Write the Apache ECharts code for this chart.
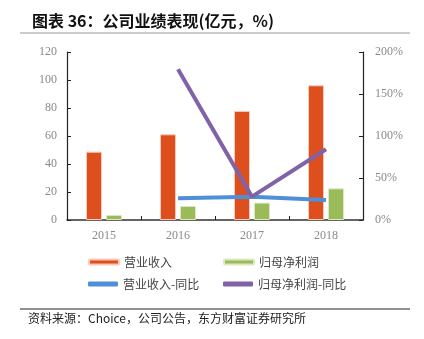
<!DOCTYPE html>
<html><head><meta charset="utf-8">
<script src="https://cdn.jsdelivr.net/npm/echarts@6/dist/echarts.min.js"></script>
<style>html,body{margin:0;padding:0;background:#fff}#c{width:424px;height:339px}</style>
</head><body><div id="c"></div>
<script>
const categories = ['2015', '2016', '2017', '2018'];
const revenue = [48.8, 61.2, 77.9, 96.2];
const netProfit = [3.6, 10.0, 12.4, 22.6];
const revenueYoY = [null, 25.8, 27.8, 23.8];
const profitYoY = [null, 179.4, 27.8, 84.2];
const leftTicks = [0, 20, 40, 60, 80, 100, 120];
const rightTicks = [0, 50, 100, 150, 200];

const chart = echarts.init(document.getElementById('c'), null, {renderer: 'canvas'});
const serif = '"Liberation Serif", "DejaVu Serif", serif';
const cjk = '"Noto Sans CJK SC", sans-serif';
const axisLabelStyle = {color: '#8a8a8a', fontFamily: serif, fontSize: 12};
function legendAt(name, left, top) {
  return {data: [name], left: left, top: top, itemWidth: 30, itemHeight: 5, icon: 'roundRect',
    textStyle: {fontFamily: cjk, fontSize: 12, color: '#444'}, itemGap: 0, padding: 0};
}
chart.setOption({
  animation: false,
  title: {text: '图表 36：公司业绩表现(亿元，%)', left: 27, top: 8,
    textStyle: {fontFamily: cjk, fontSize: 16, fontWeight: 'bold', color: '#111'}},
  graphic: [
    {type: 'line', shape: {x1: 20, y1: 33, x2: 410, y2: 33}, style: {stroke: '#999', lineWidth: 1}},
    {type: 'line', shape: {x1: 20, y1: 309, x2: 410, y2: 309}, style: {stroke: '#222', lineWidth: 1}},
    {type: 'text', left: 28, top: 312, style: {text: '资料来源：Choice，公司公告，东方财富证券研究所', fontFamily: cjk, fontSize: 12, fill: '#222'}}
  ],
  legend: [
    legendAt('营业收入', 88, 256),
    legendAt('归母净利润', 223, 256),
    legendAt('营业收入-同比', 88, 278),
    legendAt('归母净利润-同比', 223, 278)
  ],
  grid: {left: 67, right: 61, top: 52, bottom: 119},
  xAxis: {
    type: 'category', data: categories,
    axisLine: {lineStyle: {color: '#333', width: 1.5}},
    axisTick: {show: true, inside: true, length: 4, lineStyle: {color: '#222'}},
    axisLabel: Object.assign({margin: 10}, axisLabelStyle)
  },
  yAxis: [
    {type: 'value', min: 0, max: 120, interval: 20,
      axisLine: {show: true, lineStyle: {color: '#222', width: 1.2}},
      axisTick: {show: true, inside: true, length: 4, lineStyle: {color: '#222'}},
      splitLine: {show: false},
      axisLabel: Object.assign({margin: 10, formatter: v => leftTicks.includes(v) ? String(v) : ''}, axisLabelStyle)},
    {type: 'value', min: 0, max: 200, interval: 50, position: 'right',
      axisLine: {show: true, lineStyle: {color: '#222', width: 1.2}},
      axisTick: {show: true, inside: true, length: 4, lineStyle: {color: '#222'}},
      splitLine: {show: false},
      axisLabel: Object.assign({margin: 12, formatter: v => rightTicks.includes(v) ? v + '%' : ''}, axisLabelStyle)}
  ],
  series: [
    {name: '营业收入', type: 'bar', data: revenue, barWidth: 16, barGap: '25%',
      itemStyle: {color: '#DE4F1E', borderColor: '#f6c9b8', borderWidth: 1}},
    {name: '归母净利润', type: 'bar', data: netProfit, barWidth: 16,
      itemStyle: {color: '#9BBB59', borderColor: '#dbe8c4', borderWidth: 1}},
    {name: '营业收入-同比', type: 'line', yAxisIndex: 1, data: revenueYoY, showSymbol: false,
      lineStyle: {color: '#4F8FD8', width: 4}, itemStyle: {color: '#4F8FD8'}},
    {name: '归母净利润-同比', type: 'line', yAxisIndex: 1, data: profitYoY, showSymbol: false,
      lineStyle: {color: '#7F62A8', width: 4}, itemStyle: {color: '#7F62A8'}}
  ]
});
</script></body></html>
